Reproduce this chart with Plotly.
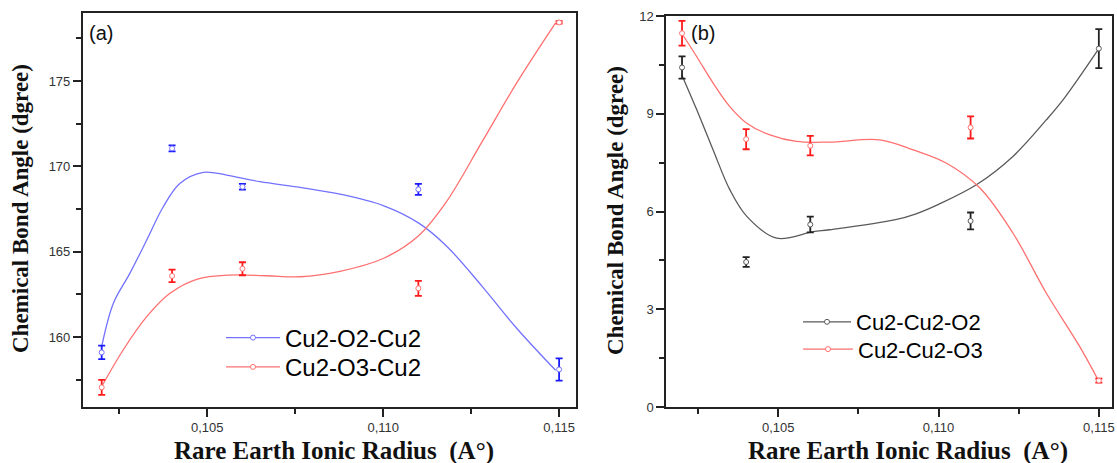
import plotly.graph_objects as go

# ---------------- data ----------------
radius = [0.102, 0.104, 0.106, 0.111, 0.115]

# panel (a)
a_o2_cu2 = [159.1, 171.05, 168.8, 168.65, 158.1]
a_o2_cu2_err = [0.4, 0.18, 0.17, 0.32, 0.65]
a_o3_cu2 = [157.05, 163.58, 164.0, 162.85, 178.43]
a_o3_cu2_err = [0.44, 0.37, 0.38, 0.44, 0.07]

# fitted (smoothed) curves of panel (a)
fit_a_o2_x = [0.10200, 0.10233, 0.1028, 0.10328, 0.10375, 0.10422, 0.10489, 0.10555,
              0.1065, 0.10764, 0.10877, 0.110, 0.11099, 0.11179, 0.1128, 0.1138, 0.1149]
fit_a_o2_y = [159.45, 161.97, 163.73, 165.68, 167.63, 169.0, 169.65, 169.49,
              169.1, 168.77, 168.37, 167.7, 166.7, 165.35, 163.0, 160.5, 158.05]
fit_a_o3_x = [0.10200, 0.10261, 0.10328, 0.10394, 0.1047, 0.10565, 0.10669, 0.10764,
              0.10877, 0.110, 0.11099, 0.11179, 0.1128, 0.1138, 0.1149]
fit_a_o3_y = [157.1, 159.24, 161.19, 162.56, 163.38, 163.63, 163.59, 163.53,
              163.85, 164.6, 165.9, 167.9, 171.4, 174.9, 178.4]

# panel (b)
b_cu2_o2 = [10.42, 4.45, 5.6, 5.71, 11.0]
b_cu2_o2_err = [0.34, 0.15, 0.24, 0.26, 0.6]
b_cu2_o3 = [11.47, 8.22, 8.02, 8.58, 0.81]
b_cu2_o3_err = [0.38, 0.31, 0.3, 0.34, 0.06]

fit_b_o2_x = [0.10199, 0.10246, 0.10297, 0.10349, 0.10402, 0.10495, 0.10609, 0.1066,
              0.10866, 0.1093, 0.110, 0.11118, 0.11232, 0.11336, 0.1139, 0.115]
fit_b_o2_y = [10.2, 9.12, 7.89, 6.67, 5.85, 5.18, 5.38, 5.44,
              5.75, 5.93, 6.22, 6.82, 7.69, 8.81, 9.45, 11.0]
fit_b_o3_x = [0.10199, 0.10246, 0.10297, 0.10349, 0.10402, 0.10474, 0.10557, 0.1066,
              0.10817, 0.10921, 0.11025, 0.11129, 0.11232, 0.11336, 0.1144, 0.115]
fit_b_o3_y = [11.47, 10.75, 9.94, 9.22, 8.71, 8.35, 8.15, 8.13,
              8.2, 7.89, 7.48, 6.72, 5.34, 3.5, 1.86, 0.79]

names_a = ["Cu2-O2-Cu2", "Cu2-O3-Cu2"]
names_b = ["Cu2-Cu2-O2", "Cu2-Cu2-O3"]

x_tickvals = [0.105, 0.110, 0.115]
x_ticktext = ["0,105", "0,110", "0,115"]
x_minor = [0.1025, 0.1075, 0.1125]
ya_tickvals = [160, 165, 170, 175]
ya_minor = [157.5, 162.5, 167.5, 172.5, 177.5]
yb_tickvals = [0, 3, 6, 9, 12]
yb_minor = [1.5, 4.5, 7.5, 10.5]

W, H = 1117, 463
BLUE_LINE, BLUE_PT = "#7272ff", "#1a1aff"
RED_LINE, RED_PT = "#ff7070", "#ff1a1a"
BLK_LINE, BLK_PT = "#5a5a5a", "#222222"

fig = go.Figure()


def add_series(xs, ys, errs, fx, fy, line_col, pt_col, xa, ya, name, legend):
    fig.add_trace(go.Scatter(
        x=fx, y=fy, mode="lines", line=dict(color=line_col, width=1.3, shape="spline", smoothing=1.0),
        xaxis=xa, yaxis=ya, showlegend=False, hoverinfo="skip"))
    fig.add_trace(go.Scatter(
        x=xs, y=ys, mode="markers",
        marker=dict(symbol="circle", size=5, color="white", line=dict(color=line_col, width=1)),
        error_y=dict(type="data", array=errs, visible=True, color=pt_col, thickness=1.8, width=3.5),
        xaxis=xa, yaxis=ya, showlegend=False))
    # legend entry (line with open circle marker)
    fig.add_trace(go.Scatter(
        x=[None], y=[None], mode="lines+markers", name=name,
        line=dict(color=line_col, width=1.3),
        marker=dict(symbol="circle", size=5, color="white", line=dict(color=line_col, width=1)),
        xaxis=xa, yaxis=ya, legend=legend, showlegend=True))


add_series(radius, a_o2_cu2, a_o2_cu2_err, fit_a_o2_x, fit_a_o2_y, BLUE_LINE, BLUE_PT, "x", "y", names_a[0], "legend")
add_series(radius, a_o3_cu2, a_o3_cu2_err, fit_a_o3_x, fit_a_o3_y, RED_LINE, RED_PT, "x", "y", names_a[1], "legend2")
add_series(radius, b_cu2_o2, b_cu2_o2_err, fit_b_o2_x, fit_b_o2_y, BLK_LINE, BLK_PT, "x2", "y2", names_b[0], "legend3")
add_series(radius, b_cu2_o3, b_cu2_o3_err, fit_b_o3_x, fit_b_o3_y, RED_LINE, RED_PT, "x2", "y2", names_b[1], "legend4")

tickfont = dict(family="Liberation Sans, Arial, sans-serif", size=13, color="#333333")
axis_common = dict(showline=True, linewidth=1.5, linecolor="#222222", mirror=True,
                   showgrid=False, zeroline=False, ticks="outside", ticklen=8, tickwidth=1.5,
                   tickcolor="#222222", tickfont=tickfont, automargin=False)
minor_common = dict(ticks="outside", ticklen=5, tickwidth=1.5, tickcolor="#222222")

lfont_a = dict(family="Liberation Sans, Arial, sans-serif", size=24, color="black")
lfont_b = dict(family="Liberation Sans, Arial, sans-serif", size=22, color="black")


def leg(x, ytop, font, iw):
    return dict(x=x / W, y=1 - ytop / H, xanchor="left", yanchor="top", font=font,
                bgcolor="rgba(0,0,0,0)", itemwidth=iw, tracegroupgap=0)


fig.update_layout(
    width=W, height=H, margin=dict(l=0, r=0, t=0, b=0, autoexpand=False),
    paper_bgcolor="white", plot_bgcolor="white",
    xaxis=dict(domain=[82.7 / W, 576 / W], range=[0.10146, 0.11548], anchor="y",
               tickmode="array", tickvals=x_tickvals, ticktext=x_ticktext,
               minor=dict(tickvals=x_minor, **minor_common), **axis_common),
    yaxis=dict(domain=[1 - 407 / H, 1 - 12.7 / H], range=[155.9, 179.0], anchor="x",
               tickmode="array", tickvals=ya_tickvals,
               minor=dict(tickvals=ya_minor, **minor_common), **axis_common),
    xaxis2=dict(domain=[666 / W, 1112.3 / W], range=[0.1015, 0.11542], anchor="y2",
                tickmode="array", tickvals=x_tickvals, ticktext=x_ticktext,
                minor=dict(tickvals=x_minor, **minor_common), **axis_common),
    yaxis2=dict(domain=[1 - 407 / H, 1 - 16 / H], range=[0, 12], anchor="x2",
                tickmode="array", tickvals=yb_tickvals,
                minor=dict(tickvals=yb_minor, **minor_common), **axis_common),
    legend=leg(221, 315.5, lfont_a, 54),
    legend2=leg(221, 344.8, lfont_a, 54),
    legend3=leg(798, 301, lfont_b, 48),
    legend4=leg(798, 328.3, lfont_b, 50),
    showlegend=True,
)

title_font_x = dict(family="Liberation Serif, Times New Roman, serif", size=25, color="#111111")
title_font_y = dict(family="Liberation Serif, Times New Roman, serif", size=23, color="#111111")
ann = [
    dict(text="(a)", x=87 / W, y=1 - 20 / H, xanchor="left", yanchor="top",
         font=dict(family="Liberation Sans, Arial, sans-serif", size=20, color="#111111")),
    dict(text="(b)", x=689 / W, y=1 - 20 / H, xanchor="left", yanchor="top",
         font=dict(family="Liberation Sans, Arial, sans-serif", size=20, color="#111111")),
    dict(text="<b>Chemical Bond Angle (dgree)</b>", x=20 / W, y=1 - 209 / H, textangle=-90,
         xanchor="center", yanchor="middle", font=title_font_y),
    dict(text="<b>Chemical Bond Angle (dgree)</b>", x=615 / W, y=1 - 211 / H, textangle=-90,
         xanchor="center", yanchor="middle", font=title_font_y),
    dict(text="<b>Rare Earth Ionic Radius \u00a0(A°)</b>", x=334 / W, y=1 - 451 / H,
         xanchor="center", yanchor="middle", font=title_font_x),
    dict(text="<b>Rare Earth Ionic Radius \u00a0(A°)</b>", x=908 / W, y=1 - 451 / H,
         xanchor="center", yanchor="middle", font=title_font_x),
]
for a in ann:
    a.update(xref="paper", yref="paper", showarrow=False)
fig.update_layout(annotations=ann)

fig.write_html("out.html", config={"displayModeBar": False},
               post_script="document.body.style.margin='0';document.body.style.overflow='hidden';")
